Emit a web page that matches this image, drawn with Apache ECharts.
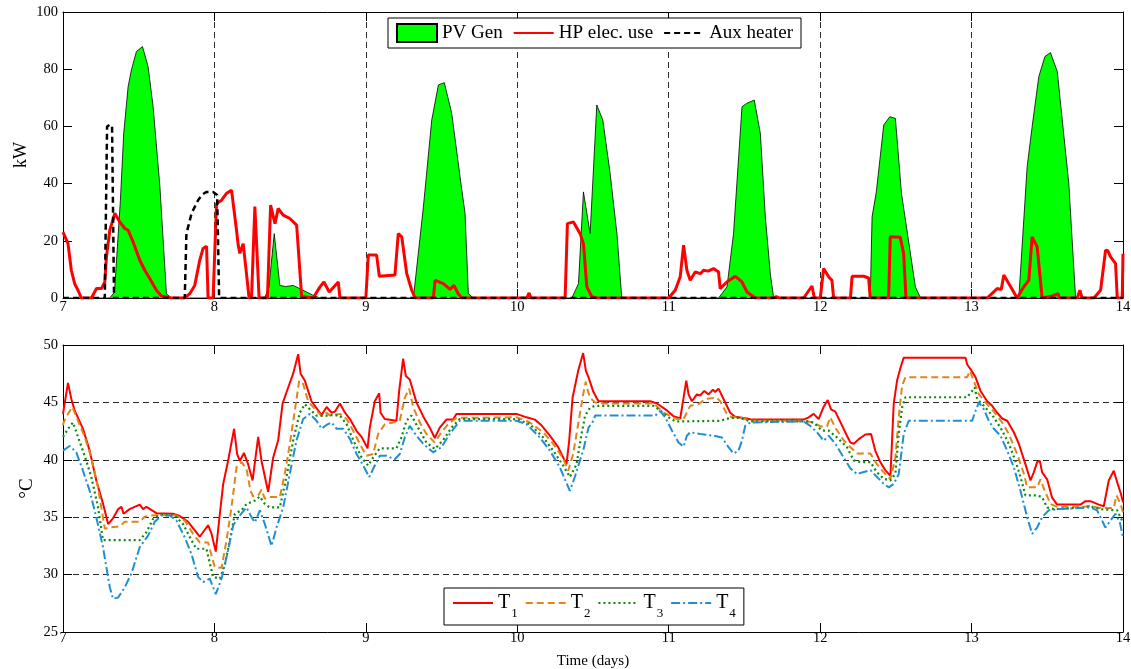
<!DOCTYPE html>
<html><head><meta charset="utf-8">
<script src="https://cdn.jsdelivr.net/npm/echarts@6/dist/echarts.min.js"></script>
<style>html,body{margin:0;padding:0;background:#fff}#c{width:1131px;height:669px}</style>
</head><body><div id="c"></div>
<script>
// ---- data (x = time in days) ----
const xTicks = [7, 8, 9, 10, 11, 12, 13, 14];
const pvGen = [[7,0],[7.308,0],[7.34,2],[7.379,34.2],[7.401,57.6],[7.43,73.9],[7.452,79.8],[7.485,86.2],[7.525,87.9],[7.562,80.9],[7.595,66.9],[7.64,38.9],[7.683,1.5],[7.716,0],
[8.332,0],[8.36,3.9],[8.395,22.5],[8.432,4.4],[8.47,4],[8.52,4.4],[8.609,2.1],[8.65,1],[8.697,0],
[9.314,0],[9.38,31.9],[9.435,62.2],[9.479,74.5],[9.518,75.3],[9.567,64.6],[9.622,42.4],[9.655,29.6],[9.677,1.5],[9.71,0],
[10.36,0],[10.404,5],[10.437,37.1],[10.481,22.5],[10.525,67.5],[10.565,62.2],[10.613,43.6],[10.658,22.5],[10.69,0],
[11.329,0],[11.385,3.9],[11.428,22.5],[11.484,66.9],[11.517,68.1],[11.565,69.2],[11.605,57.6],[11.638,28.4],[11.671,8.5],[11.693,0],
[12.299,0],[12.331,0.5],[12.343,28.4],[12.371,37.1],[12.42,60.5],[12.46,63.4],[12.497,62.8],[12.537,36.6],[12.629,3.9],[12.663,0],
[13.312,0],[13.367,45.9],[13.4,59.9],[13.444,77.4],[13.484,84.4],[13.521,85.8],[13.566,79.2],[13.642,40.1],[13.687,0],[14,0]];
const hpUse = [[7,23],[7.011,22.8],[7.033,19],[7.055,9.7],[7.077,5],[7.099,2.7],[7.121,0],[7.188,0],[7.221,3.3],[7.254,3.3],[7.276,5.6],[7.287,14.4],[7.309,23.7],[7.342,29.6],[7.375,26.6],[7.408,24.3],[7.43,23.7],[7.463,19.6],[7.507,13.2],[7.54,9.7],[7.573,6.8],[7.617,2.7],[7.65,0.7],[7.716,0],[7.804,0],[7.837,1.5],[7.87,4.4],[7.903,13.2],[7.925,17.3],[7.948,18.1],[7.958,0],[7.991,0],[8.014,33],[8.047,34.2],[8.08,36.6],[8.113,37.7],[8.146,23.7],[8.157,18.5],[8.168,15.6],[8.19,19],[8.229,0],[8.245,0],[8.267,32],[8.295,0],[8.35,0],[8.371,32.5],[8.4,26],[8.421,31.3],[8.454,29],[8.498,27.8],[8.543,25.5],[8.576,0.5],[8.652,0],[8.697,3.9],[8.723,5.6],[8.758,2.1],[8.818,5.6],[8.829,0],[9.0,0],[9.016,15],[9.071,15],[9.089,7.6],[9.192,8],[9.214,22.5],[9.237,21.4],[9.27,8.5],[9.303,2.7],[9.325,0],[9.446,0],[9.457,6.2],[9.512,5],[9.556,3],[9.582,4.4],[9.61,1.5],[9.633,0],[10.063,0],[10.078,1.8],[10.089,0],[10.316,0],[10.331,26],[10.371,26.6],[10.415,22.5],[10.437,19],[10.459,3.9],[10.492,0.5],[10.525,0],[10.999,0],[11.043,2.7],[11.076,7.4],[11.098,18.5],[11.12,9.7],[11.142,6.2],[11.175,9.1],[11.209,8.5],[11.23,9.7],[11.26,9.4],[11.296,10.3],[11.329,9.1],[11.34,3.3],[11.384,5.6],[11.44,7.6],[11.484,5.6],[11.517,2.1],[11.572,0],[11.693,0],[11.71,0.5],[11.73,0],[11.891,0],[11.946,4.2],[11.962,0],[12.001,0],[12.023,10.3],[12.056,7.4],[12.078,6.2],[12.089,0],[12.2,0],[12.211,7.6],[12.288,7.6],[12.32,7],[12.331,0],[12.452,0],[12.463,21.4],[12.529,21.2],[12.551,15.6],[12.567,0],[13.103,0],[13.169,3.3],[13.196,3],[13.213,8],[13.258,3.9],[13.301,0],[13.345,3.9],[13.378,6.2],[13.4,21.4],[13.411,22],[13.433,17.9],[13.466,0],[13.521,0.5],[13.572,1.5],[13.58,0],[13.698,0],[13.715,2.7],[13.73,0],[13.808,0],[13.852,2.7],[13.885,16.7],[13.9,16.5],[13.918,14.4],[13.951,12],[13.962,0],[13.995,0],[14,15.5]];
const auxHeater = [[7,0],[7.276,0],[7.291,59.9],[7.309,60.7],[7.324,59.9],[7.337,0],[7.804,0],[7.815,22.5],[7.849,29.6],[7.892,34.2],[7.92,36.2],[7.948,37.1],[7.991,37.1],[8.018,36],[8.031,0],[14,0]];
const t1 = [[7,44],[7.005,44.1],[7.033,46.7],[7.055,45.3],[7.077,44.3],[7.132,42.7],[7.176,40.8],[7.22,38.2],[7.264,36.2],[7.298,34.4],[7.33,34.9],[7.364,35.7],[7.386,35.9],[7.4,35.3],[7.44,35.7],[7.507,36.1],[7.529,35.7],[7.551,35.9],[7.617,35.35],[7.727,35.3],[7.771,35.1],[7.826,34.6],[7.903,33.3],[7.958,34.3],[7.98,33.6],[8.009,32],[8.036,35.3],[8.058,37.9],[8.09,39.9],[8.13,42.7],[8.15,40.5],[8.168,39.9],[8.195,40.6],[8.223,39.6],[8.252,38.2],[8.289,42],[8.311,39.9],[8.355,37.2],[8.388,40.2],[8.421,41.7],[8.45,44.9],[8.487,46.3],[8.52,47.5],[8.553,49.2],[8.569,47.5],[8.597,46.9],[8.641,45.1],[8.685,44.3],[8.708,43.9],[8.741,44.6],[8.774,44.1],[8.796,44.2],[8.829,44.9],[8.862,44.1],[8.895,43.55],[8.939,42.5],[8.972,42],[9.011,41],[9.026,42.8],[9.059,45.1],[9.088,45.8],[9.097,44.1],[9.125,43.55],[9.202,43.4],[9.22,46],[9.246,48.8],[9.264,47.3],[9.29,47],[9.334,45],[9.378,43.8],[9.422,42.8],[9.455,41.9],[9.488,42.8],[9.532,43.5],[9.576,43.5],[9.598,44],[9.995,44],[10.061,43.7],[10.116,43.5],[10.16,43],[10.215,42.1],[10.27,41.1],[10.325,39.6],[10.343,41.7],[10.365,45.4],[10.402,47.75],[10.435,49.3],[10.453,47.75],[10.47,47.2],[10.503,45.9],[10.536,45.1],[10.878,45.1],[10.922,44.9],[10.988,44.3],[11.032,43.8],[11.076,43.6],[11.098,45.4],[11.116,46.9],[11.131,45.7],[11.153,45.1],[11.186,45.7],[11.208,45.6],[11.235,46],[11.263,45.7],[11.292,46.1],[11.307,45.9],[11.329,46.2],[11.362,45.3],[11.406,44.1],[11.439,43.75],[11.516,43.6],[11.549,43.5],[11.891,43.5],[11.924,43.7],[11.957,44],[11.99,43.55],[12.023,44.6],[12.05,45.2],[12.072,44.4],[12.1,44.2],[12.133,43.3],[12.177,42.1],[12.2,41.5],[12.222,41.4],[12.255,41.8],[12.299,42.2],[12.336,42.25],[12.364,40.8],[12.397,39.8],[12.43,39.1],[12.464,38.6],[12.475,41.7],[12.486,44.9],[12.508,46.9],[12.53,48],[12.552,48.9],[12.96,48.9],[12.971,48.3],[12.993,47.9],[13.026,47.2],[13.059,46],[13.103,45.1],[13.136,44.7],[13.169,44.1],[13.202,43.6],[13.235,43.4],[13.279,42.4],[13.312,41.4],[13.356,39.6],[13.389,38.2],[13.411,38.9],[13.433,39.8],[13.451,39.9],[13.466,38.9],[13.499,38.3],[13.532,36.7],[13.565,36.1],[13.719,36.1],[13.752,36.4],[13.785,36.4],[13.84,36.1],[13.873,35.95],[13.906,38.2],[13.939,39.05],[13.95,39.2],[13.965,37.9],[13.987,37],[14,36.3]];
const t2 = [[7,43],[7.005,43.3],[7.033,44],[7.062,44.6],[7.099,43.4],[7.143,42],[7.187,40.2],[7.231,37.6],[7.276,34],[7.309,34.1],[7.375,34.2],[7.408,34.6],[7.507,34.6],[7.54,35.05],[7.584,35.15],[7.639,35.2],[7.749,35.15],[7.804,34.7],[7.859,33.55],[7.903,32.8],[7.958,32.8],[8.002,30.65],[8.047,30.6],[8.08,33],[8.113,35.9],[8.146,39.35],[8.179,39.8],[8.212,39.2],[8.238,37.3],[8.256,36.8],[8.289,36.9],[8.311,37.4],[8.333,36.6],[8.355,36.75],[8.432,36.75],[8.465,38.8],[8.498,41.4],[8.531,44.3],[8.56,46.9],[8.586,46.6],[8.619,45.1],[8.652,44.6],[8.708,43.8],[8.741,44.1],[8.763,43.85],[8.829,44],[8.873,43.55],[8.917,42.5],[8.972,41.1],[9.004,40.35],[9.048,40.5],[9.081,42.25],[9.125,43.1],[9.18,43.25],[9.224,43.4],[9.257,45.4],[9.286,46.2],[9.312,44.6],[9.356,43.25],[9.4,42.25],[9.455,41.5],[9.499,42.4],[9.543,43.1],[9.598,43.65],[9.995,43.7],[10.083,43.25],[10.171,42.4],[10.237,41.4],[10.303,40.1],[10.336,39.05],[10.369,40.5],[10.402,43.1],[10.435,45.7],[10.452,46.8],[10.459,46.3],[10.481,45.4],[10.514,45],[10.569,44.9],[10.9,44.9],[10.966,44.1],[11.054,43.55],[11.098,43.55],[11.142,44.7],[11.197,44.85],[11.241,45.3],[11.318,45.4],[11.34,45.1],[11.384,44],[11.417,43.7],[11.472,43.7],[11.538,43.4],[11.891,43.4],[11.957,43.25],[12.005,42.9],[12.045,42.9],[12.067,43.7],[12.1,42.8],[12.155,41.7],[12.2,41.1],[12.244,40.55],[12.332,40.55],[12.376,39.6],[12.42,38.9],[12.464,38.3],[12.497,40.2],[12.519,43.7],[12.541,46.45],[12.563,47.2],[12.971,47.2],[12.989,47.75],[13.011,47],[13.048,45.7],[13.092,45],[13.147,44.2],[13.202,43.25],[13.246,42.25],[13.301,40.5],[13.345,38.8],[13.367,37.6],[13.433,37.6],[13.455,38.3],[13.477,37.5],[13.521,36.15],[13.565,35.9],[13.741,35.9],[13.785,36],[13.84,35.8],[13.939,35.8],[13.957,36.9],[13.984,36.15],[14,35.4]];
const t3 = [[7,42],[7.005,42.1],[7.033,42.7],[7.066,43.25],[7.099,42],[7.143,40.35],[7.187,38.5],[7.231,35.9],[7.264,33],[7.507,33],[7.551,33.7],[7.595,34.85],[7.639,35.2],[7.738,35.15],[7.793,34.4],[7.848,33],[7.881,32.25],[7.947,32.25],[7.991,29.8],[8.036,29.65],[8.069,30.9],[8.102,33],[8.135,35.3],[8.179,35.6],[8.212,36.15],[8.267,36.45],[8.3,36.8],[8.333,36.15],[8.366,35.85],[8.432,35.85],[8.476,38.5],[8.52,41.7],[8.564,44.1],[8.597,44.85],[8.63,44.4],[8.674,43.85],[8.741,43.85],[8.763,43.9],[8.829,43.85],[8.873,43.1],[8.917,41.7],[8.972,40.2],[9.015,39.5],[9.048,40.2],[9.092,41],[9.202,41],[9.235,41.95],[9.268,43.4],[9.301,43.85],[9.345,42.8],[9.4,41.5],[9.455,40.95],[9.51,41.7],[9.565,42.8],[9.62,43.55],[9.995,43.55],[10.083,43.1],[10.171,41.95],[10.237,40.8],[10.303,39.5],[10.347,38.5],[10.391,39.6],[10.425,42.3],[10.448,43.85],[10.481,44.55],[10.514,44.7],[10.9,44.7],[10.933,44.4],[10.999,43.7],[11.043,43.35],[11.12,43.35],[11.34,43.4],[11.406,43.65],[11.472,43.65],[11.538,43.35],[11.913,43.35],[11.957,43.25],[12.012,42.55],[12.056,42.55],[12.111,41.95],[12.177,41.1],[12.222,39.95],[12.266,39.8],[12.332,39.8],[12.376,38.9],[12.42,38.35],[12.464,38.2],[12.497,38.8],[12.519,42.25],[12.541,44.55],[12.563,45.45],[12.971,45.45],[13.004,46],[13.02,46.3],[13.037,45.3],[13.081,44.7],[13.147,43.7],[13.202,42.55],[13.246,41.4],[13.29,39.9],[13.323,38.5],[13.356,36.9],[13.433,36.9],[13.466,36.75],[13.499,35.85],[13.543,35.7],[13.741,35.85],[13.785,35.95],[13.851,35.7],[13.961,35.6],[13.994,34.7],[14,34.6]];
const t4 = [[7,40.8],[7.005,40.9],[7.044,41.2],[7.088,40.65],[7.132,39.05],[7.176,37.3],[7.22,35],[7.264,32.4],[7.309,28.9],[7.33,27.9],[7.364,28],[7.408,28.9],[7.452,30.1],[7.507,32.4],[7.562,33.4],[7.606,34.6],[7.65,35.15],[7.705,35.15],[7.749,34.7],[7.804,33.25],[7.848,31.8],[7.892,29.8],[7.925,29.35],[7.969,29.65],[8.009,28.3],[8.047,29.65],[8.09,32.1],[8.124,34.3],[8.168,35.15],[8.212,35.85],[8.245,35],[8.267,34.55],[8.3,35.6],[8.333,34.4],[8.377,32.5],[8.41,34.1],[8.454,35.85],[8.498,38.8],[8.542,41.7],[8.586,43.55],[8.63,44],[8.674,43.4],[8.708,42.7],[8.741,43.05],[8.774,43.25],[8.807,42.7],[8.851,42.7],[8.895,41.8],[8.939,40.5],[8.983,39.5],[9.022,38.5],[9.059,39.5],[9.092,40.35],[9.136,40.35],[9.191,40.05],[9.224,40.5],[9.257,41.95],[9.29,42.95],[9.334,42.1],[9.378,41.4],[9.444,40.65],[9.499,41.1],[9.554,42.25],[9.62,43.4],[9.995,43.4],[10.061,43.1],[10.149,41.95],[10.215,40.8],[10.281,39.35],[10.347,37.3],[10.38,38.5],[10.413,39.9],[10.437,40.9],[10.47,42.8],[10.503,43.4],[10.514,43.85],[10.911,43.85],[10.944,44.25],[10.977,43.7],[11.021,42.55],[11.065,41.5],[11.098,41.15],[11.12,42.1],[11.142,42.4],[11.208,42.25],[11.296,42.1],[11.351,41.95],[11.395,41.1],[11.428,40.55],[11.461,40.8],[11.483,41.65],[11.505,42.95],[11.538,43.25],[11.891,43.35],[11.935,42.95],[11.979,42.4],[12.023,41.65],[12.056,42.1],[12.1,41.4],[12.155,40.2],[12.2,39.25],[12.244,38.75],[12.277,38.9],[12.332,39.1],[12.376,38.5],[12.42,37.9],[12.453,37.6],[12.486,37.9],[12.519,38.75],[12.552,42.25],[12.585,43.4],[13.004,43.4],[13.026,44.25],[13.048,45],[13.081,44.4],[13.114,43.4],[13.147,42.7],[13.191,42.1],[13.235,40.8],[13.279,39.35],[13.323,37.3],[13.367,35],[13.4,33.55],[13.433,34.1],[13.466,35],[13.51,35.6],[13.565,35.7],[13.785,35.85],[13.829,35.6],[13.884,34.1],[13.917,34.7],[13.95,35.3],[13.979,34.55],[14,33.25]];
const topNames = ['PV Gen', 'HP elec. use', 'Aux heater'];
const tempNames = ['T1', 'T2', 'T3', 'T4'];

// ---- chart ----
const FONT = '"Liberation Serif", "Times New Roman", serif';
const chart = echarts.init(document.getElementById('c'), null, { renderer: 'canvas' });
const dash = { color: '#2a2a2a', width: 1, type: [6, 4] };

function xAx(grid, pos, labels, split, margin, extra) {
  return Object.assign({
    type: 'value', gridIndex: grid, position: pos, min: xTicks[0], max: xTicks[xTicks.length - 1], interval: 1,
    nameMoveOverlap: false,
    axisLine: { show: true, onZero: false, lineStyle: { color: '#000', width: 1 } },
    axisTick: { show: true, inside: true, length: 9, lineStyle: { color: '#000' } },
    axisLabel: { show: labels, color: '#000', fontFamily: FONT, fontSize: 14.5, margin: margin },
    splitLine: { show: split, showMinLine: false, showMaxLine: false, lineStyle: dash }
  }, extra || {});
}
function yAx(grid, pos, min, max, step, labels, split, extra) {
  return Object.assign({
    type: 'value', gridIndex: grid, position: pos, min: min, max: max, interval: step,
    nameMoveOverlap: false,
    axisLine: { show: true, onZero: false, lineStyle: { color: '#000', width: 1 } },
    axisTick: { show: true, inside: true, length: 9, lineStyle: { color: '#000' } },
    axisLabel: { show: labels, color: '#000', fontFamily: FONT, fontSize: 14.5, margin: 5 },
    splitLine: { show: split, showMinLine: false, showMaxLine: false, lineStyle: dash }
  }, extra || {});
}

const lineBase = { type: 'line', symbol: 'none', showSymbol: false, animation: false, smooth: false };
const hideSym = { opacity: 0 };

const option = {
  animation: false,
  backgroundColor: '#fff',
  grid: [
    { left: 63, right: 8, top: 12, height: 286, outerBoundsMode: 'none', containLabel: false },
    { left: 63, right: 8, top: 345, height: 287, outerBoundsMode: 'none', containLabel: false }
  ],
  xAxis: [
    xAx(0, 'bottom', true, true, 2),
    xAx(0, 'top', false, false, 2),
    xAx(1, 'bottom', true, false, -1.5, { name: 'Time (days)', nameLocation: 'middle', nameGap: 22,
      nameTextStyle: { fontFamily: FONT, fontSize: 15, color: '#000' } }),
    xAx(1, 'top', false, false, 2)
  ],
  yAxis: [
    yAx(0, 'left', 0, 100, 20, true, false, { name: 'kW', nameLocation: 'middle', nameGap: 33,
      nameTextStyle: { fontFamily: FONT, fontSize: 18, color: '#000' } }),
    yAx(0, 'right', 0, 100, 20, false, false),
    yAx(1, 'left', 25, 50, 5, true, true, { name: '°C', nameLocation: 'middle', nameGap: 26,
      nameTextStyle: { fontFamily: FONT, fontSize: 19, color: '#000' } }),
    yAx(1, 'right', 25, 50, 5, false, false)
  ],
  legend: [
    {
      data: [{ name: topNames[0], icon: 'rect' },
             { name: topNames[1], itemStyle: hideSym },
             { name: topNames[2], itemStyle: hideSym }],
      left: 388, top: 18, orient: 'horizontal', itemWidth: 40, itemHeight: 18, itemGap: 10,
      padding: [5, 8, 5, 8], borderColor: '#000', borderWidth: 1, backgroundColor: '#fff',
      selectedMode: false,
      textStyle: { fontFamily: FONT, fontSize: 19, color: '#000' }
    },
    {
      data: tempNames.map(n => ({ name: n, itemStyle: hideSym })),
      left: 444, top: 588, orient: 'horizontal', itemWidth: 40, itemHeight: 14, itemGap: 7,
      padding: [5, 8, 5, 8], borderColor: '#000', borderWidth: 1, backgroundColor: '#fff',
      selectedMode: false,
      formatter: n => '{t|T}{s|' + n.slice(1) + '}',
      textStyle: {
        fontFamily: FONT, color: '#000',
        rich: {
          t: { fontFamily: FONT, fontSize: 20, lineHeight: 20, verticalAlign: 'top', color: '#000' },
          s: { fontFamily: FONT, fontSize: 13, lineHeight: 13, verticalAlign: 'top', padding: [14, 0, 0, 1], color: '#000' }
        }
      }
    }
  ],
  series: [
    { name: topNames[0], type: 'bar', data: [], xAxisIndex: 0, yAxisIndex: 0,
      itemStyle: { color: '#00ff00', borderColor: '#000', borderWidth: 1 } },
    Object.assign({}, lineBase, { name: topNames[0], data: pvGen, xAxisIndex: 0, yAxisIndex: 0, z: 2,
      lineStyle: { color: '#000', width: 0.8 }, itemStyle: { color: '#00ff00' },
      areaStyle: { color: '#00ff00', opacity: 1 } }),
    Object.assign({}, lineBase, { name: topNames[1], data: hpUse, xAxisIndex: 0, yAxisIndex: 0, z: 3,
      lineStyle: { color: '#ff0000', width: 3 }, itemStyle: { color: '#ff0000' } }),
    Object.assign({}, lineBase, { name: topNames[2], data: auxHeater, xAxisIndex: 0, yAxisIndex: 0, z: 4,
      lineStyle: { color: '#000', width: 2.5, type: [6, 4] }, itemStyle: { color: '#000' } }),
    Object.assign({}, lineBase, { name: tempNames[0], data: t1, xAxisIndex: 2, yAxisIndex: 2, z: 3,
      lineStyle: { color: '#ff0000', width: 2 }, itemStyle: { color: '#ff0000' } }),
    Object.assign({}, lineBase, { name: tempNames[1], data: t2, xAxisIndex: 2, yAxisIndex: 2, z: 4,
      lineStyle: { color: '#e0851a', width: 2, type: [7, 4] }, itemStyle: { color: '#e0851a' } }),
    Object.assign({}, lineBase, { name: tempNames[2], data: t3, xAxisIndex: 2, yAxisIndex: 2, z: 5,
      lineStyle: { color: '#0b8a0b', width: 2.2, type: [2, 3] }, itemStyle: { color: '#0b8a0b' } }),
    Object.assign({}, lineBase, { name: tempNames[3], data: t4, xAxisIndex: 2, yAxisIndex: 2, z: 6,
      lineStyle: { color: '#1f8fd3', width: 2, type: [9, 3, 2, 3] }, itemStyle: { color: '#1f8fd3' } })
  ]
};
chart.setOption(option);
</script>
</body></html>
